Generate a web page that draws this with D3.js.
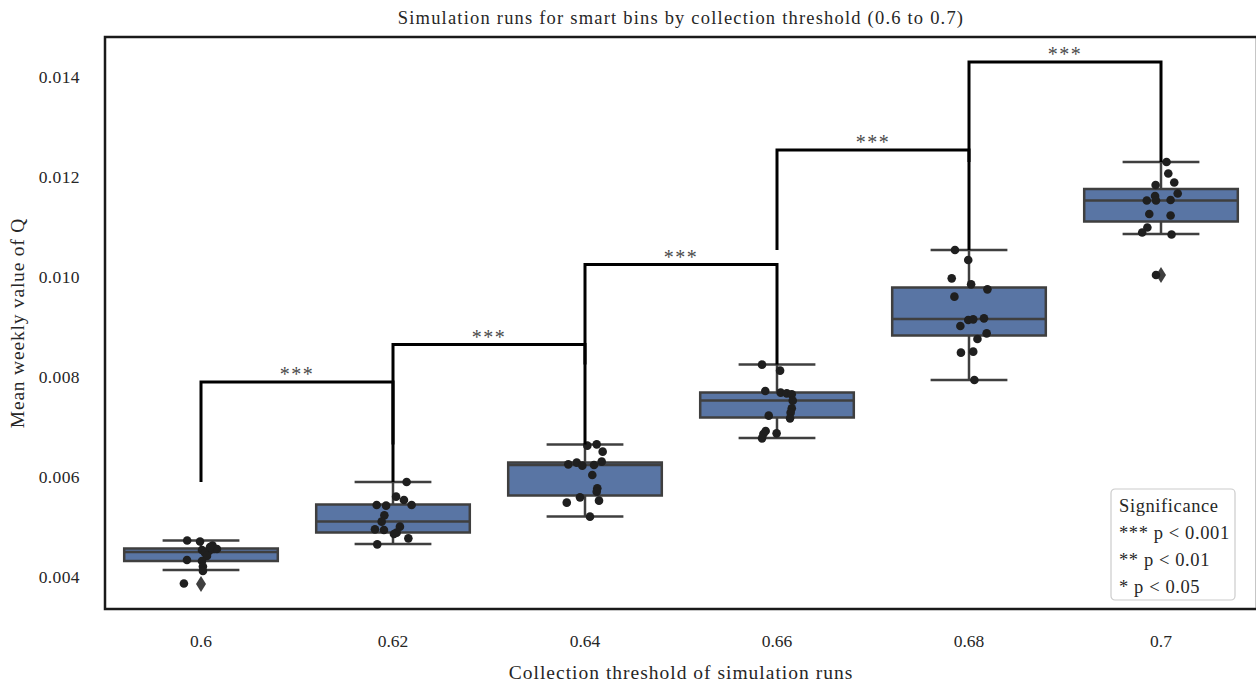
<!DOCTYPE html>
<html lang="en">
  <head>
    <meta charset="UTF-8" />
    <title>Simulation runs for smart bins</title>
    <script src="https://d3js.org/d3.v7.min.js"></script>
    <style>
      body {
        margin: 0;
        background: white;
      }
      svg {
        display: block;
        font-family: "Liberation Serif", "DejaVu Serif", serif;
      }
    </style>
  </head>
  <body>
    <svg width="1256" height="684"></svg>

    <script>
      const categories = ["0.6", "0.62", "0.64", "0.66", "0.68", "0.7"];

      // box stats: [low whisker, q1, median, q3, high whisker]
      const boxStats = [
        [0.00414, 0.00432, 0.0045, 0.00457, 0.00473],
        [0.00466, 0.00489, 0.00511, 0.00545, 0.0059],
        [0.00521, 0.00563, 0.00624, 0.00629, 0.00665],
        [0.00678, 0.00719, 0.00753, 0.00769, 0.00825],
        [0.00794, 0.00883, 0.00916, 0.00979, 0.01054],
        [0.01086, 0.01111, 0.01153, 0.01176, 0.0123],
      ];
      const outliers = [[0.00386], [], [], [], [], [0.01004]];

      // individual runs (strip plot), value and jitter in category units
      const runs06 = [0.00473, 0.00471, 0.00463, 0.00456, 0.00456, 0.00452, 0.00454, 0.00448, 0.00442, 0.00434, 0.00432, 0.00421, 0.00412, 0.00387, 0.0046];
      const jit06 = [-0.072, -0.005, 0.06, 0.083, 0.068, 0.042, 0.005, 0.021, 0.031, -0.073, 0.005, 0.01, 0.01, -0.089, 0.047];
      const runs062 = [0.0059, 0.005607, 0.00554, 0.00544, 0.00544, 0.005427, 0.005233, 0.005107, 0.004953, 0.00494, 0.005007, 0.004887, 0.00486, 0.004773, 0.004653];
      const jit062 = [0.071, 0.016, 0.057, 0.097, -0.085, -0.036, -0.045, -0.059, -0.094, -0.047, 0.036, 0.019, 0.005, 0.08, -0.082];
      const runs064 = [0.006627, 0.006653, 0.006507, 0.006307, 0.006253, 0.006287, 0.006227, 0.00624, 0.00604, 0.005773, 0.005707, 0.005593, 0.005487, 0.005527, 0.005207];
      const jit064 = [0.012, 0.061, 0.092, 0.087, -0.087, -0.043, -0.014, 0.047, 0.038, 0.064, 0.061, -0.026, -0.095, 0.073, 0.026];
      const runs066 = [0.008247, 0.008127, 0.00772, 0.007687, 0.007673, 0.007653, 0.007527, 0.007373, 0.007287, 0.007227, 0.007173, 0.00692, 0.006873, 0.00686, 0.006773];
      const jit066 = [-0.078, 0.016, -0.061, 0.019, 0.051, 0.077, 0.082, 0.077, 0.071, -0.043, 0.068, -0.059, -0.002, -0.071, -0.078];
      const runs068 = [0.01054, 0.01034, 0.009973, 0.009853, 0.009753, 0.009607, 0.00914, 0.009153, 0.009173, 0.00902, 0.008873, 0.00876, 0.008487, 0.008507, 0.00794];
      const jit068 = [-0.073, -0.004, -0.09, 0.011, 0.096, -0.076, -0.004, 0.022, 0.078, -0.045, 0.092, 0.044, -0.042, 0.022, 0.028];
      const runs07 = [0.0123, 0.01207, 0.01189, 0.01184, 0.01167, 0.01162, 0.01153, 0.01153, 0.01154, 0.01126, 0.01123, 0.01099, 0.01089, 0.01085, 0.01004];
      const jit07 = [0.029, 0.038, 0.069, -0.028, 0.087, -0.031, -0.074, -0.026, 0.05, -0.061, 0.05, -0.071, -0.098, 0.055, -0.026];

      const runs = [runs06, runs062, runs064, runs066, runs068, runs07];
      const jitters = [jit06, jit062, jit064, jit066, jit068, jit07];

      // significance brackets between neighbouring thresholds
      const pairs = [[0, 1], [1, 2], [2, 3], [3, 4], [4, 5]];
      const pairLabels = ["***", "***", "***", "***", "***"];
      const bracketRise = 0.002;

      const yTicks = [0.004, 0.006, 0.008, 0.01, 0.012, 0.014];
      const legendLines = ["Significance", "*** p < 0.001", "** p < 0.01", "* p < 0.05"];

      const margin = { top: 37, right: -1, bottom: 75, left: 105 };
      const width = 1256;
      const height = 684;

      const svg = d3.select("svg");

      const x = d3
        .scaleBand()
        .domain(categories)
        .range([margin.left, width - margin.right])
        .padding(0);
      const y = d3
        .scaleLinear()
        .domain([0.00336, 0.0148])
        .range([height - margin.bottom, margin.top]);

      const bw = x.bandwidth();
      const cx = (i) => x(categories[i]) + bw / 2;
      const boxW = bw * 0.8;
      const capW = boxW / 2;
      const lineCol = "#3f3f3f";
      const textCol = "#262626";

      // axes without ticks
      svg
        .append("g")
        .attr("transform", `translate(${margin.left},0)`)
        .call(
          d3.axisLeft(y).tickValues(yTicks).tickFormat(d3.format(".3f")).tickSize(0).tickPadding(25)
        )
        .call((g) => g.select(".domain").remove())
        .selectAll("text")
        .attr("font-size", 17.5)
        .attr("font-family", "Liberation Serif")
        .attr("letter-spacing", 0.4)
        .attr("fill", textCol);

      svg
        .append("g")
        .attr("transform", `translate(0,${height - margin.bottom})`)
        .call(d3.axisBottom(x).tickSize(0).tickPadding(26))
        .call((g) => g.select(".domain").remove())
        .selectAll("text")
        .attr("font-size", 17.5)
        .attr("font-family", "Liberation Serif")
        .attr("fill", textCol);

      // boxes
      const boxes = svg
        .append("g")
        .selectAll("g")
        .data(boxStats)
        .join("g");

      boxes
        .append("line")
        .attr("x1", (d, i) => cx(i))
        .attr("x2", (d, i) => cx(i))
        .attr("y1", (d) => y(d[0]))
        .attr("y2", (d) => y(d[1]))
        .attr("stroke", lineCol)
        .attr("stroke-width", 2.5);
      boxes
        .append("line")
        .attr("x1", (d, i) => cx(i))
        .attr("x2", (d, i) => cx(i))
        .attr("y1", (d) => y(d[3]))
        .attr("y2", (d) => y(d[4]))
        .attr("stroke", lineCol)
        .attr("stroke-width", 2.5);
      [0, 4].forEach((k) => {
        boxes
          .append("line")
          .attr("x1", (d, i) => cx(i) - capW / 2)
          .attr("x2", (d, i) => cx(i) + capW / 2)
          .attr("y1", (d) => y(d[k]))
          .attr("y2", (d) => y(d[k]))
          .attr("stroke", lineCol)
          .attr("stroke-width", 2.5);
      });
      boxes
        .append("rect")
        .attr("x", (d, i) => cx(i) - boxW / 2)
        .attr("width", boxW)
        .attr("y", (d) => y(d[3]))
        .attr("height", (d) => y(d[1]) - y(d[3]))
        .attr("fill", "#5975a4")
        .attr("stroke", lineCol)
        .attr("stroke-width", 2.5);
      boxes
        .append("line")
        .attr("x1", (d, i) => cx(i) - boxW / 2)
        .attr("x2", (d, i) => cx(i) + boxW / 2)
        .attr("y1", (d) => y(d[2]))
        .attr("y2", (d) => y(d[2]))
        .attr("stroke", lineCol)
        .attr("stroke-width", 2.5);

      // outlier diamonds
      const flierData = outliers.flatMap((vals, i) => vals.map((v) => ({ i, v })));
      svg
        .append("g")
        .selectAll("path")
        .data(flierData)
        .join("path")
        .attr("d", "M0,-8L5,0L0,8L-5,0Z")
        .attr("transform", (d) => `translate(${cx(d.i)},${y(d.v)})`)
        .attr("fill", lineCol);

      // strip points
      const pointData = runs.flatMap((vals, i) =>
        vals.map((v, j) => ({ i, v, j: jitters[i][j] }))
      );
      svg
        .append("g")
        .selectAll("circle")
        .data(pointData)
        .join("circle")
        .attr("cx", (d) => cx(d.i) + d.j * bw)
        .attr("cy", (d) => y(d.v))
        .attr("r", 4.3)
        .attr("fill", "#1f1f1f");

      // significance brackets
      const brackets = svg.append("g");
      pairs.forEach(([a, b], k) => {
        const base = Math.max(boxStats[a][4], boxStats[b][4]);
        const top = base + bracketRise;
        brackets
          .append("path")
          .attr("d", `M${cx(a)},${y(base)}V${y(top)}H${cx(b)}V${y(base)}`)
          .attr("fill", "none")
          .attr("stroke", "black")
          .attr("stroke-width", 3);
        brackets
          .append("text")
          .attr("x", (cx(a) + cx(b)) / 2)
          .attr("y", y(top) - 1)
          .attr("text-anchor", "middle")
          .attr("font-size", 20)
          .attr("letter-spacing", 1.5)
          .attr("fill", "#4a4a4a")
          .text(pairLabels[k]);
      });

      // frame
      svg
        .append("rect")
        .attr("x", margin.left)
        .attr("y", margin.top)
        .attr("width", x.range()[1] - margin.left)
        .attr("height", height - margin.bottom - margin.top)
        .attr("fill", "none")
        .attr("stroke", "#1a1a1a")
        .attr("stroke-width", 2.5);

      // legend
      const legend = svg.append("g").attr("transform", "translate(1111,489)");
      legend
        .append("rect")
        .attr("width", 124)
        .attr("height", 111)
        .attr("rx", 4)
        .attr("fill", "white")
        .attr("fill-opacity", 0.8)
        .attr("stroke", "#cccccc")
        .attr("stroke-width", 1.2);
      legend
        .selectAll("text")
        .data(legendLines)
        .join("text")
        .attr("x", 8)
        .attr("y", (d, i) => 23 + i * 27)
        .attr("font-size", 18.5)
        .attr("letter-spacing", 0.6)
        .attr("fill", textCol)
        .text((d) => d);

      // titles
      svg
        .append("text")
        .attr("x", (margin.left + x.range()[1]) / 2)
        .attr("y", 24)
        .attr("text-anchor", "middle")
        .attr("font-size", 18.5)
        .attr("letter-spacing", 1.2)
        .attr("fill", textCol)
        .text("Simulation runs for smart bins by collection threshold (0.6 to 0.7)");

      svg
        .append("text")
        .attr("x", (margin.left + x.range()[1]) / 2)
        .attr("y", 679)
        .attr("text-anchor", "middle")
        .attr("font-size", 19.5)
        .attr("letter-spacing", 1)
        .attr("fill", textCol)
        .text("Collection threshold of simulation runs");

      svg
        .append("text")
        .attr("transform", `translate(24,${(margin.top + height - margin.bottom) / 2}) rotate(-90)`)
        .attr("text-anchor", "middle")
        .attr("font-size", 19.5)
        .attr("letter-spacing", 0.8)
        .attr("fill", textCol)
        .text("Mean weekly value of Q");
    </script>
  </body>
</html>
